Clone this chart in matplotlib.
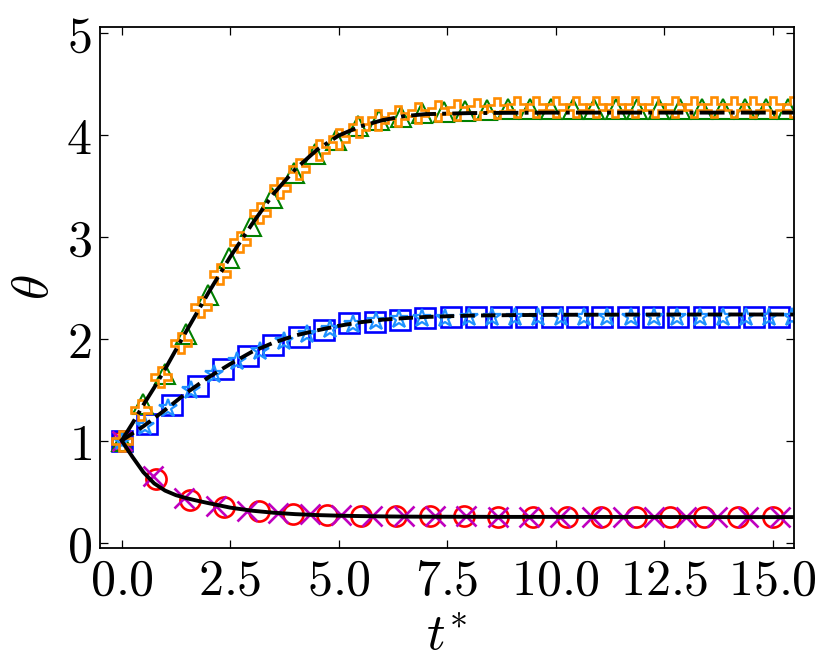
import matplotlib
matplotlib.use("Agg")
import matplotlib.pyplot as plt
from matplotlib.ticker import FuncFormatter, MultipleLocator

plt.rcParams['mathtext.fontset'] = 'cm'
plt.rcParams['font.family'] = ['DejaVu Serif']

# ---- data ----
t_line = [0.0, 0.25, 0.5, 0.75, 1.0, 1.25, 1.5, 1.75, 2.0, 2.5, 3.0, 3.5, 4.0, 4.5,
          5.0, 5.5, 6.0, 6.5, 7.0, 8.0, 9.0, 10.0, 12.0, 14.0, 15.6]
th_low = [1.0, 0.84, 0.69, 0.58, 0.51, 0.465, 0.435, 0.41, 0.387, 0.343, 0.313, 0.293,
          0.279, 0.27, 0.264, 0.26, 0.257, 0.255, 0.254, 0.253, 0.252, 0.252, 0.251, 0.25, 0.25]
th_mid = [1.0, 1.07, 1.14, 1.22, 1.30, 1.385, 1.47, 1.545, 1.62, 1.75, 1.87, 1.96, 2.03,
          2.08, 2.125, 2.16, 2.185, 2.2, 2.212, 2.225, 2.23, 2.233, 2.235, 2.236, 2.236]
th_up = [1.0, 1.17, 1.35, 1.52, 1.70, 1.89, 2.08, 2.265, 2.45, 2.80, 3.12, 3.42, 3.66,
         3.85, 3.99, 4.08, 4.14, 4.18, 4.20, 4.21, 4.213, 4.215, 4.215, 4.215, 4.215]

t_circ = [0.0, 0.789, 1.579, 2.368, 3.158, 3.947, 4.737, 5.526, 6.316, 7.105, 7.895,
          8.684, 9.474, 10.263, 11.053, 11.842, 12.632, 13.421, 14.211, 15.0]
th_circ = [1.0, 0.62, 0.42, 0.345, 0.305, 0.285, 0.27, 0.263, 0.259, 0.257, 0.256,
           0.255, 0.255, 0.255, 0.255, 0.255, 0.255, 0.255, 0.255, 0.255]

t_x = [0.0, 0.722, 1.444, 2.166, 2.888, 3.61, 4.332, 5.054, 5.776, 6.498, 7.22, 7.942,
       8.664, 9.386, 10.108, 10.83, 11.552, 12.274, 12.996, 13.718, 14.44, 15.162]
th_x = [1.0, 0.65, 0.44, 0.36, 0.31, 0.294, 0.277, 0.267, 0.262, 0.259, 0.257, 0.256,
        0.255, 0.255, 0.255, 0.255, 0.255, 0.255, 0.255, 0.255, 0.255, 0.255]

t_sq = [0.0, 0.583, 1.166, 1.749, 2.332, 2.915, 3.498, 4.081, 4.664, 5.247, 5.83, 6.413,
        6.996, 7.579, 8.162, 8.745, 9.328, 9.911, 10.494, 11.077, 11.66, 12.243, 12.826,
        13.409, 13.992, 14.575, 15.158]
th_sq = [1.0, 1.166, 1.352, 1.534, 1.697, 1.834, 1.935, 2.017, 2.082, 2.148, 2.16, 2.185,
         2.2, 2.207, 2.211, 2.213, 2.213, 2.213, 2.213, 2.213, 2.213, 2.213, 2.213, 2.213,
         2.213, 2.213, 2.213]

t_star = [0.0, 0.533, 1.066, 1.599, 2.132, 2.665, 3.198, 3.731, 4.264, 4.797, 5.33, 5.863,
          6.396, 6.929, 7.462, 7.995, 8.528, 9.061, 9.594, 10.127, 10.66, 11.193, 11.726,
          12.259, 12.792, 13.325, 13.858, 14.391, 14.924, 15.457]
th_star = [1.0, 1.142, 1.322, 1.50, 1.648, 1.779, 1.877, 1.975, 2.04, 2.096, 2.145, 2.17,
           2.19, 2.2, 2.205, 2.21, 2.21, 2.21, 2.21, 2.21, 2.21, 2.21, 2.21, 2.21, 2.21,
           2.21, 2.21, 2.21, 2.21, 2.21]

t_tri = [0.0, 0.495, 0.99, 1.485, 1.98, 2.475, 2.97, 3.465, 3.96, 4.455, 4.95, 5.445,
         5.94, 6.435, 6.93, 7.425, 7.92, 8.415, 8.91, 9.405, 9.9, 10.395, 10.89, 11.385,
         11.88, 12.375, 12.87, 13.365, 13.86, 14.355, 14.85, 15.345]
th_tri = [1.0, 1.354, 1.648, 2.04, 2.432, 2.791, 3.101, 3.379, 3.624, 3.813, 3.95, 4.08,
          4.146, 4.172, 4.211, 4.225, 4.235, 4.245, 4.25, 4.25, 4.25, 4.25, 4.25, 4.25,
          4.25, 4.25, 4.25, 4.25, 4.25, 4.25, 4.25, 4.25]

t_plus = [0.0, 0.455, 0.91, 1.365, 1.82, 2.275, 2.73, 3.185, 3.64, 4.095, 4.55, 5.005,
          5.46, 5.915, 6.37, 6.825, 7.28, 7.735, 8.19, 8.645, 9.1, 9.555, 10.01, 10.465,
          10.92, 11.375, 11.83, 12.285, 12.74, 13.195, 13.65, 14.105, 14.56, 15.015, 15.47]
th_plus = [1.0, 1.30, 1.62, 1.96, 2.31, 2.63, 2.95, 3.23, 3.48, 3.66, 3.85, 3.96, 4.07,
           4.14, 4.185, 4.21, 4.23, 4.245, 4.255, 4.265, 4.27, 4.27, 4.27, 4.27, 4.27,
           4.27, 4.27, 4.27, 4.27, 4.27, 4.27, 4.27, 4.27, 4.27, 4.27]

# ---- figure ----
fig = plt.figure(figsize=(8.31, 6.69), dpi=100)
ax = fig.add_axes([0.1203, 0.1813, 0.9558 - 0.1203, 0.959 - 0.1813])

mk = dict(linestyle='none', mfc='none')
ax.plot(t_circ, th_circ, marker='o', color='red', ms=14.5, mew=1.9, **mk, zorder=2)
ax.plot(t_x, th_x, marker='x', color='m', ms=14, mew=1.9, **mk, zorder=2.1)
ax.plot(t_sq, th_sq, marker='s', color='blue', ms=14.5, mew=1.9, **mk, zorder=2)
ax.plot(t_star, th_star, marker='*', color='dodgerblue', ms=13.5, mew=1.6, **mk, zorder=2.1)
ax.plot(t_tri, th_tri, marker='^', color='green', ms=14.5, mew=1.5, **mk, zorder=2)
ax.plot(t_plus, th_plus, marker='P', color='darkorange', ms=14.5, mew=1.9, **mk, zorder=2.1)

ax.plot(t_line, th_low, color='black', lw=2.8, ls='-', zorder=3)
ax.plot(t_line, th_mid, color='black', lw=2.8, ls='--', zorder=3)
ax.plot(t_line, th_up, color='black', lw=2.8, ls='-.', zorder=3)

ax.set_xlim(-0.5, 15.5)
ax.set_ylim(-0.05, 5.05)
ax.xaxis.set_major_locator(MultipleLocator(2.5))
ax.yaxis.set_major_locator(MultipleLocator(1))
ax.xaxis.set_major_formatter(FuncFormatter(lambda v, p: r'$%.1f$' % v))
ax.yaxis.set_major_formatter(FuncFormatter(lambda v, p: r'$%d$' % round(v)))

ax.tick_params(direction='in', top=True, right=True, length=5.5, width=0.9,
               labelsize=36, pad=6)
for s in ax.spines.values():
    s.set_linewidth(1.3)

ax.set_xlabel(r'$t^{*}$', fontsize=37, labelpad=4)
ax.set_ylabel(r'$\theta$', fontsize=37, labelpad=5)

fig.savefig('out.png', dpi=100)
